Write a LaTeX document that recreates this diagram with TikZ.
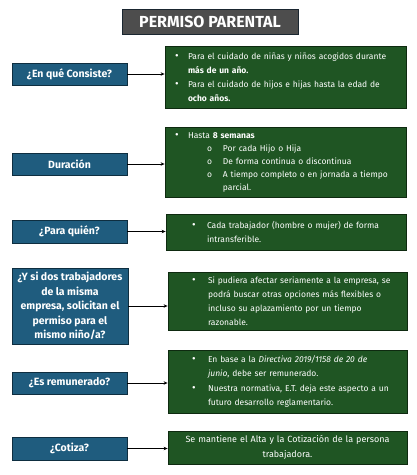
\documentclass[tikz,border=0pt]{standalone}
\usepackage{fontspec}
\setmainfont{Fira Sans}
\usetikzlibrary{arrows.meta}
\definecolor{qblue}{HTML}{1F5C7E}
\definecolor{qblueb}{HTML}{0E2E40}
\definecolor{agreen}{HTML}{1F5523}
\definecolor{agreenb}{HTML}{0E2A10}
\definecolor{tgray}{HTML}{4D4D4D}
\definecolor{tgrayb}{HTML}{1A2630}
\newcommand{\bdot}{{\fontsize{11}{11}\selectfont •}}
\newcommand{\bi}[3]{\hspace*{#1}\makebox[#2][l]{#3}}
\begin{document}
\begin{tikzpicture}[x=1pt,y=-1pt,
 qbox/.style={draw=qblueb, fill=qblue, line width=0.8pt, text=white,
   font=\fontsize{10.5}{14.5}\selectfont\bfseries, align=center, inner sep=0pt,
   minimum width=115pt},
 abox/.style={draw=agreenb, fill=agreen, line width=0.8pt, text=white,
   font=\fontsize{8.5}{14}\selectfont, align=left, inner sep=0pt},
 conn/.style={-{Stealth[length=4pt,width=3.5pt]}, line width=0.8pt, black}]
\useasboundingbox (0,0) rectangle (417,475);

\node[draw=tgrayb, fill=tgray, line width=0.8pt, text=white,
  font=\fontsize{16}{18}\selectfont\bfseries, minimum width=176pt,
  minimum height=25pt, inner sep=0pt] (title) at (210,21.5) {PERMISO PARENTAL};

% Row 1
\node[qbox, minimum height=22pt] (q1) at (69.5,74) {¿En qué Consiste?};
\node[abox, text width=241pt, minimum height=62pt] (a1) at (285.5,77) {%
\bi{10pt}{13pt}{\bdot}Para el cuidado de niñas y niños acogidos durante\\
\hspace*{23pt}\textbf{más de un año.}\\
\bi{10pt}{13pt}{\bdot}Para el cuidado de hijos e hijas hasta la edad de\\
\hspace*{23pt}\textbf{ocho años.}};

% Row 2
\node[qbox, minimum height=22pt] (q2) at (69.5,164) {Duración};
\node[abox, text width=241pt, minimum height=70pt, font=\fontsize{8.5}{13}\selectfont] (a2) at (285.5,162) {%
\bi{10pt}{13pt}{\bdot}Hasta \textbf{8 semanas}\\
\bi{42pt}{16pt}{o}Por cada Hijo o Hija\\
\bi{42pt}{16pt}{o}De forma continua o discontinua\\
\bi{42pt}{16pt}{o}A tiempo completo o en jornada a tiempo\\
\hspace*{58pt}parcial.};

% Row 3
\node[qbox, minimum height=23pt] (q3) at (69.5,231.5) {¿Para quién?};
\node[abox, text width=240pt, minimum height=36pt] (a3) at (286,232) {%
\bi{26pt}{15pt}{\bdot}Cada trabajador (hombre o mujer) de forma\\
\hspace*{41pt}intransferible.};

% Row 4
\node[qbox, minimum width=116pt, minimum height=76pt] (q4) at (70,306) {¿Y si dos trabajadores\\de la misma\\empresa, solicitan el\\permiso para el\\mismo niño/a?};
\node[abox, text width=239pt, minimum height=58pt] (a4) at (287.5,301) {%
\bi{24pt}{16pt}{\bdot}Si pudiera afectar seriamente a la empresa, se\\
\hspace*{40pt}podrá buscar otras opciones más flexibles o\\
\hspace*{40pt}incluso su aplazamiento por un tiempo\\
\hspace*{40pt}razonable.};

% Row 5
\node[qbox, minimum height=22pt] (q5) at (69.5,383) {¿Es remunerado?};
\node[abox, text width=239pt, minimum height=63pt, font=\fontsize{8.5}{14.5}\selectfont] (a5) at (287.5,381.5) {%
\bi{24pt}{16pt}{\bdot}En base a la \textit{Directiva 2019/1158 de 20 de}\\
\hspace*{40pt}\textit{junio}, debe ser remunerado.\\
\bi{24pt}{16pt}{\bdot}Nuestra normativa, E.T. deja este aspecto a un\\
\hspace*{40pt}futuro desarrollo reglamentario.};

% Row 6
\node[qbox, minimum height=23pt] (q6) at (69.5,448.5) {¿Cotiza?};
\node[abox, text width=239pt, minimum height=33pt, align=center, font=\fontsize{9}{15}\selectfont] (a6) at (287.5,447.5) {Se mantiene el Alta y la Cotización de la persona\\trabajadora.};

\foreach \i in {1,...,6}{
  \draw[conn] (q\i.east) -- (q\i.east -| a\i.west);
}
\end{tikzpicture}
\end{document}
